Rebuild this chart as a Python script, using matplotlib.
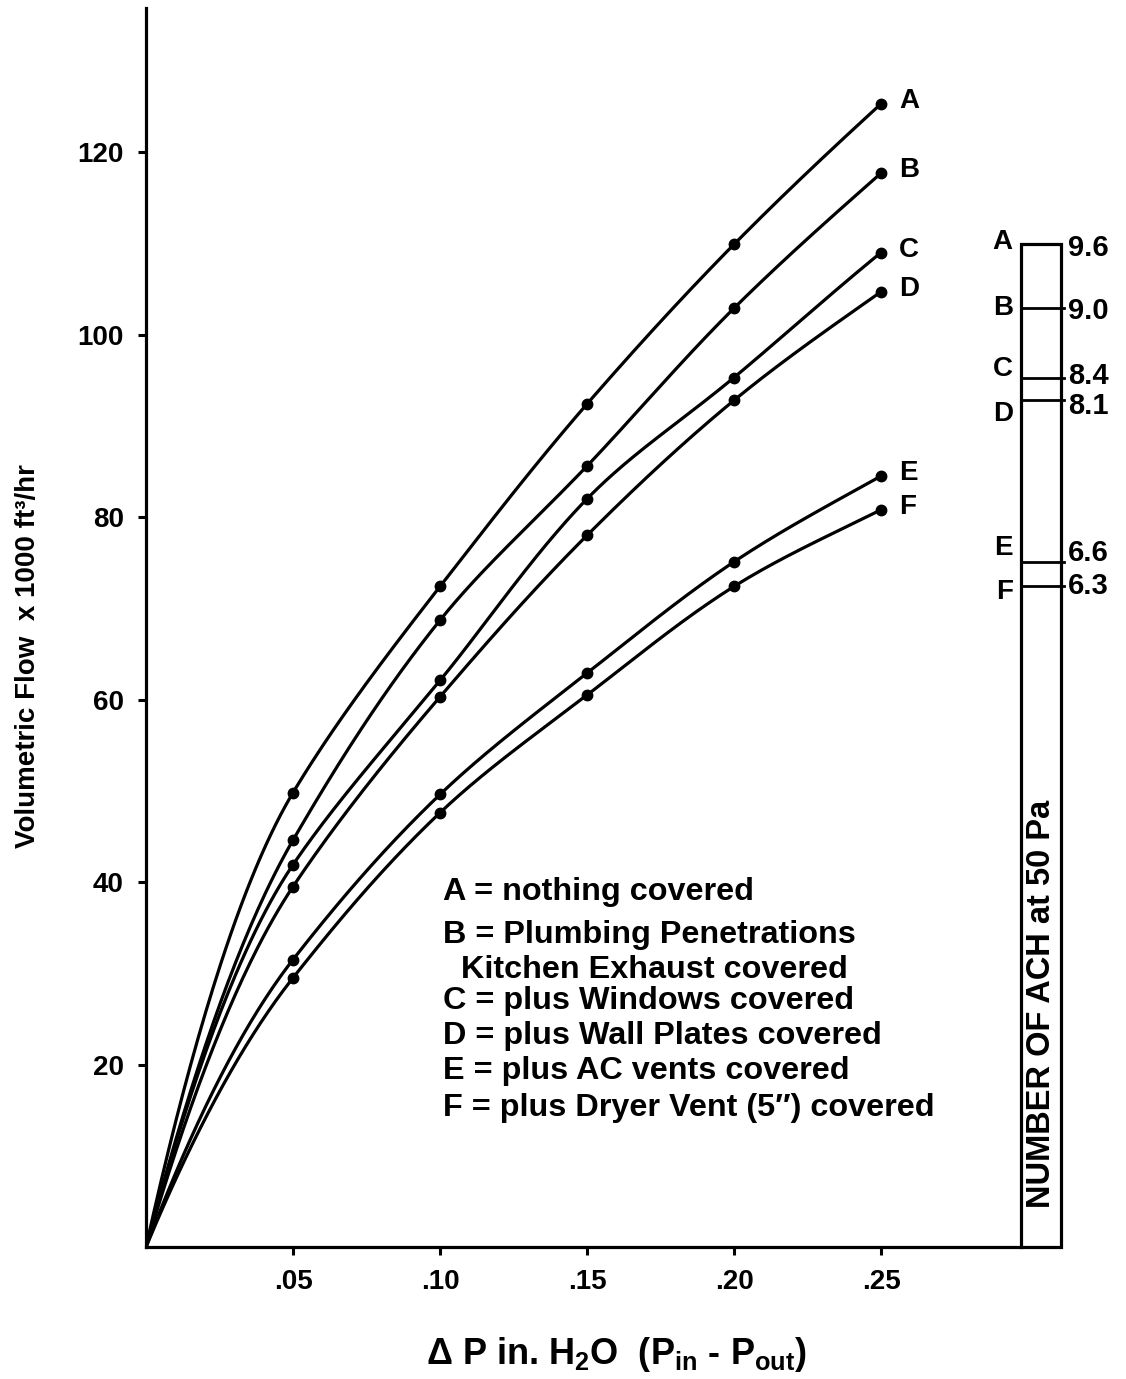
import numpy as np
import matplotlib.pyplot as plt
from matplotlib.patches import Rectangle

plt.rcParams['font.family'] = ['Liberation Sans', 'DejaVu Sans']
plt.rcParams['font.weight'] = 'bold'
plt.rcParams['mathtext.fontset'] = 'custom'
plt.rcParams['mathtext.rm'] = 'Liberation Sans:bold'
plt.rcParams['mathtext.bf'] = 'Liberation Sans:bold'
plt.rcParams['mathtext.it'] = 'Liberation Sans:bold'

# pressure difference, in. H2O
dp = [0.05, 0.10, 0.15, 0.20, 0.25]
dp_labels = ['.05', '.10', '.15', '.20', '.25']

# volumetric flow x 1000 ft3/hr
flow_a = [49.8, 72.4, 92.4, 109.9, 125.3]
flow_b = [44.6, 68.7, 85.6, 102.9, 117.7]
flow_c = [41.9, 62.1, 82.0, 95.3, 109.0]
flow_d = [39.5, 60.3, 78.0, 92.8, 104.7]
flow_e = [31.5, 49.6, 62.9, 75.1, 84.5]
flow_f = [29.5, 47.6, 60.5, 72.4, 80.8]

names = ['A', 'B', 'C', 'D', 'E', 'F']
series = [flow_a, flow_b, flow_c, flow_d, flow_e, flow_f]

# air changes per hour at 50 Pa (0.20 in.)
ach = ['9.6', '9.0', '8.4', '8.1', '6.6', '6.3']

legend_lines = ['A = nothing covered',
                'B = Plumbing Penetrations',
                '  Kitchen Exhaust covered',
                'C = plus Windows covered',
                'D = plus Wall Plates covered',
                'E = plus AC vents covered',
                'F = plus Dryer Vent (5\u2033) covered']


def smooth_curve(xs, ys, n=300):
    # hermite in log-log space between the points, quadratic from the origin
    lx, ly = np.log(xs), np.log(ys)
    h = np.diff(lx)
    d = np.diff(ly) / h
    m = np.concatenate([[d[0]], (d[:-1] + d[1:]) / 2, [d[-1]]])
    xx = np.linspace(xs[0], xs[-1], n)
    v = np.log(xx)
    i = np.clip(np.searchsorted(lx, v) - 1, 0, len(h) - 1)
    t = (v - lx[i]) / h[i]
    lyy = ((2*t**3 - 3*t**2 + 1) * ly[i] + (t**3 - 2*t**2 + t) * h[i] * m[i]
           + (-2*t**3 + 3*t**2) * ly[i+1] + (t**3 - t**2) * h[i] * m[i+1])
    # first stretch: y = a x + b x^2 meeting the first point with matching slope
    s1 = m[0] * ys[0] / xs[0]
    b = (s1 * xs[0] - ys[0]) / xs[0] ** 2
    a = ys[0] / xs[0] - b * xs[0]
    x0 = np.linspace(0, xs[0], 60)
    y0 = a * x0 + b * x0 ** 2
    return np.concatenate([x0, xx]), np.concatenate([y0, np.exp(lyy)])


W, H = 1126, 1379
fig = plt.figure(figsize=(W / 100, H / 100), dpi=100)

def fx(px):
    return px / W

def fy(py):
    return 1 - py / H

ax = fig.add_axes([fx(146), fy(1247), fx(1021) - fx(146), fy(8) - fy(1247)])
ax.set_xlim(0, 0.2976)
ax.set_ylim(0, 135.8)

for name, vals in zip(names, series):
    sx, sy = smooth_curve(np.array(dp), np.array(vals))
    ax.plot(sx, sy, color='black', lw=2.3, solid_capstyle='round')
    ax.plot(dp, vals, 'o', color='black', ms=7.5)
    ax.annotate(name, (dp[-1], vals[-1]), xytext=(13, 2), textcoords='offset points',
                ha='left', va='center', fontsize=20, fontweight='bold')

for s in ['top', 'right']:
    ax.spines[s].set_visible(False)
for s in ['left', 'bottom']:
    ax.spines[s].set_linewidth(2.3)

ax.set_xticks(dp)
ax.set_xticklabels(dp_labels)
ax.set_yticks([20, 40, 60, 80, 100, 120])
ax.tick_params(direction='out', length=6, width=2.2, labelsize=20, pad=10)

# ACH bar sharing the flow scale
bar = fig.add_axes([fx(1021), fy(1247), fx(1061) - fx(1021), fy(8) - fy(1247)])
bar.set_xlim(0, 1)
bar.set_ylim(ax.get_ylim())
bar.axis('off')
at50 = [v[3] for v in series]
bar.add_patch(Rectangle((0, 0), 1, at50[0], fill=False, ec='black', lw=2.3, clip_on=False))
for v in at50[1:]:
    bar.plot([0, 1.08], [v, v], color='black', lw=2.0, clip_on=False)

letter_dy = [2, 0, 6, -10, 10, -4]
value_dy = [-3, -2, 1, -4, 6, 0]
for name, val, v, ldy, vdy in zip(names, ach, at50, letter_dy, value_dy):
    bar.annotate(name, (0, v), xytext=(-6, ldy), textcoords='offset points',
                 ha='right', va='center', fontsize=20, fontweight='bold', annotation_clip=False)
    bar.annotate(val, (1, v), xytext=(5, vdy), textcoords='offset points',
                 ha='left', va='center', fontsize=21, fontweight='bold', annotation_clip=False)

bar.text(0.5, 0.196, 'NUMBER OF ACH at 50 Pa', rotation=90, transform=bar.transAxes,
         ha='center', va='center', fontsize=23.5, fontweight='bold')

# description block
rows_y = [892, 935, 970, 1001, 1036, 1071, 1108]
for txt, py in zip(legend_lines, rows_y):
    fig.text(fx(443), fy(py), txt, ha='left', va='center', fontsize=23.3, fontweight='bold')

fig.text(fx(28), fy(656), 'Volumetric Flow  x 1000 ft\u00b3/hr', rotation=90,
         ha='center', va='center', fontsize=20, fontweight='bold')
fig.text(fx(617), fy(1355),
         r'$\Delta$ P in. H$_\mathbf{2}$O  (P$_\mathbf{in}$ - P$_\mathbf{out}$)',
         ha='center', va='center', fontsize=26, fontweight='bold')

fig.savefig('out.png', dpi=100)
